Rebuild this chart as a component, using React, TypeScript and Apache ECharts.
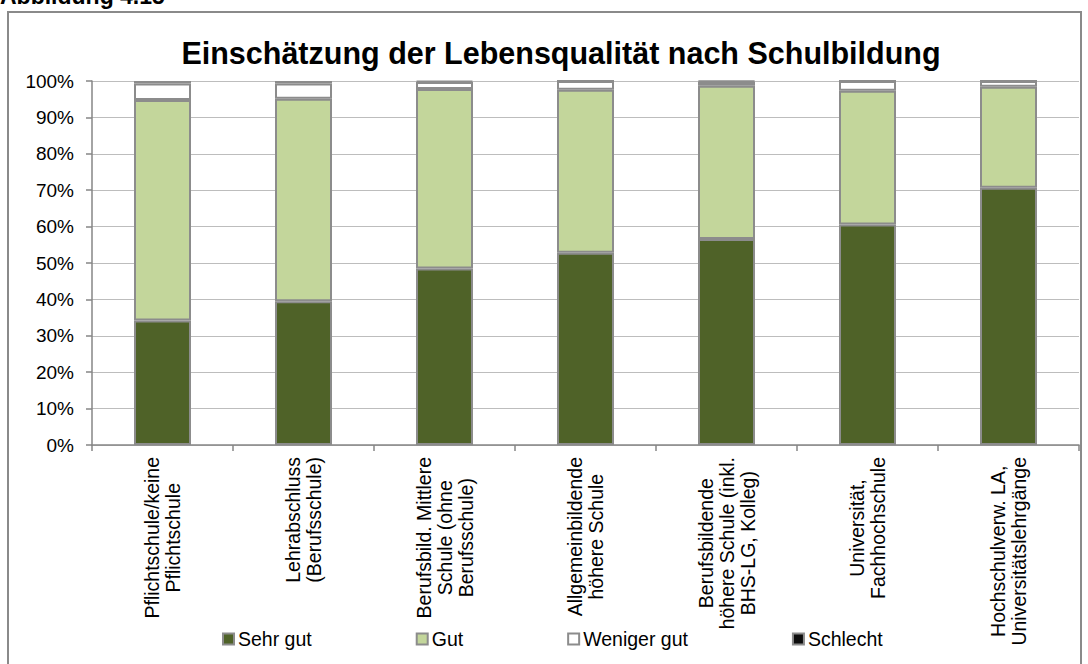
import React, { useEffect, useRef } from 'react';
import * as echarts from 'echarts';

const categories = [
  'Pflichtschule/keine\nPflichtschule',
  'Lehrabschluss\n(Berufsschule)',
  'Berufsbild. Mittlere\nSchule (ohne\nBerufsschule)',
  'Allgemeinbildende\nhöhere Schule',
  'Berufsbildende\nhöhere Schule (inkl.\nBHS-LG, Kolleg)',
  'Universität,\nFachhochschule',
  'Hochschulverw. LA,\nUniversitätslehrgänge',
];
const sehrGut = [34.2, 39.5, 48.5, 52.8, 56.6, 60.6, 70.7];
const gut = [60.6, 55.6, 49.3, 44.8, 42.1, 36.7, 27.7];
const wenigerGut = [4.5, 4.2, 1.9, 2.4, 1.1, 2.7, 1.6];
const schlecht = [0.7, 0.7, 0.3, 0, 0.2, 0, 0];
const seriesNames = ['Sehr gut', 'Gut', 'Weniger gut', 'Schlecht'];
const seriesColors = ['#4f6228', '#c3d69b', '#ffffff', '#0d0d0d'];
const titleText = 'Einschätzung der Lebensqualität nach Schulbildung';
const figureText = 'Abbildung 4.15';

const FONT = 'Liberation Sans, Arial, sans-serif';

export default function App() {
  const ref = useRef<HTMLDivElement>(null);
  useEffect(() => {
    if (!ref.current) return;
    const chart = echarts.init(ref.current, null, { renderer: 'svg' });
    const values = [sehrGut, gut, wenigerGut, schlecht];
    chart.setOption({
      animation: false,
      backgroundColor: '#ffffff',
      textStyle: { fontFamily: FONT },
      title: {
        text: titleText,
        left: 556,
        textAlign: 'center',
        top: 32,
        textStyle: { fontSize: 30.5, fontWeight: 'bold', color: '#000', fontFamily: FONT },
      },
      graphic: [
        {
          type: 'rect',
          shape: { x: 8, y: 12, width: 1073, height: 670 },
          style: { fill: 'none', stroke: '#8a8a8a', lineWidth: 2 },
          silent: true,
        },
        {
          type: 'text',
          x: 0,
          y: 7,
          style: {
            text: figureText,
            font: 'bold 23px ' + FONT,
            fill: '#000',
            textVerticalAlign: 'bottom',
          },
        },
      ],
      legend: {
        data: seriesNames,
        left: 222,
        top: 629,
        padding: 0,
        itemGap: 104,
        itemWidth: 11,
        itemHeight: 11,
        icon: 'rect',
        textStyle: { fontSize: 19.5, color: '#000', fontFamily: FONT, padding: [0, 0, 0, -1] },
      },
      grid: { left: 92, right: 9, top: 81, bottom: 219, containLabel: false },
      xAxis: {
        type: 'category',
        data: categories,
        axisLine: { lineStyle: { color: '#868686', width: 1.5 } },
        axisTick: { show: true, length: 6, lineStyle: { color: '#868686', width: 1.5 } },
        axisLabel: {
          rotate: 90,
          margin: 12,
          interval: 0,
          color: '#000',
          fontSize: 19.5,
          fontFamily: FONT,
          formatter: (v: string) => v.split('\n').map((l) => `{c|${l}}`).join('\n'),
          rich: { c: { align: 'center', fontSize: 19.5, lineHeight: 21, color: '#000', fontFamily: FONT } },
        },
      },
      yAxis: {
        type: 'value',
        min: 0,
        max: 100,
        interval: 10,
        axisLine: { show: true, lineStyle: { color: '#868686', width: 1.5 } },
        axisTick: { show: true, length: 6, lineStyle: { color: '#868686', width: 1.5 } },
        axisLabel: { formatter: '{value}%', margin: 18, color: '#000', fontSize: 19, fontFamily: FONT },
        splitLine: { lineStyle: { color: '#bdbdbd', width: 1.2 } },
      },
      series: seriesNames.map((name, i) => ({
        name,
        type: 'bar',
        stack: 'total',
        barWidth: 57,
        data: values[i],
        itemStyle: { color: seriesColors[i], borderColor: '#8c8c8c', borderWidth: 2 },
      })),
    });
    return () => chart.dispose();
  }, []);
  return (
    <div
      ref={ref}
      style={{ position: 'absolute', left: 0, top: 0, width: 1088, height: 664 }}
    />
  );
}
